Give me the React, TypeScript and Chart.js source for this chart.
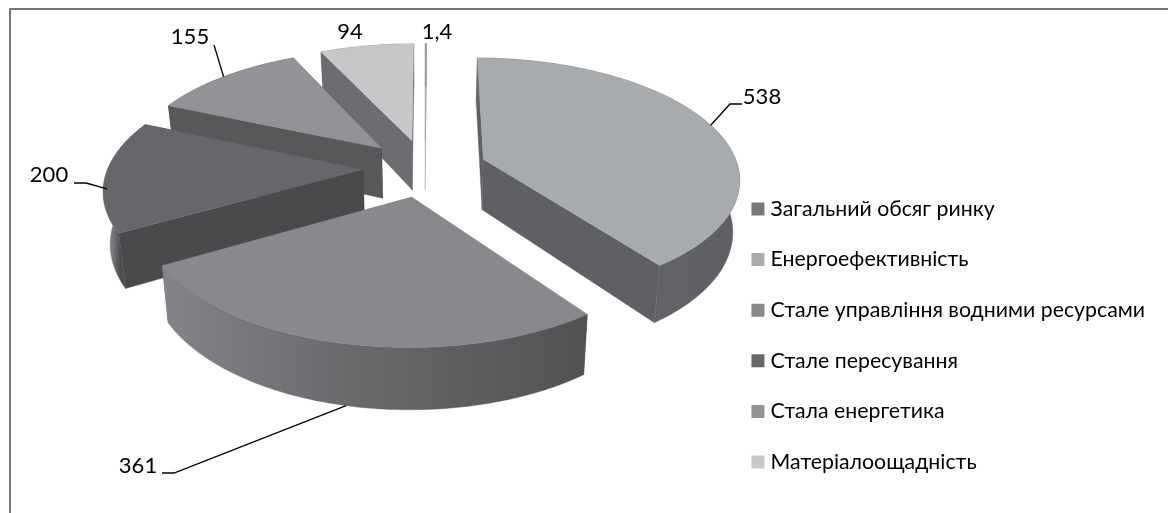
import React, { useEffect, useRef } from "react";
import { Chart, registerables } from "chart.js";

Chart.register(...registerables);

const categories = [
  "Загальний обсяг ринку",
  "Енергоефективність",
  "Стале управління водними ресурсами",
  "Стале пересування",
  "Стала енергетика",
  "Матеріалоощадність",
];
const values = [1.4, 538, 361, 200, 155, 94];
const valueLabels = ["1,4", "538", "361", "200", "155", "94"];

const topColors = ["#77787c", "#a8abae", "#88898c", "#66676a", "#929396", "#c6c7c9"];
const faceColors = ["#77787c", "#5f6064", "#6a6a6d", "#4a4a4c", "#58585b", "#6c6d70"];
const wallStops: [number, string][][] = [
  [[0, "#77787c"], [1, "#77787c"]],
  [[0, "#68696d"], [1, "#5f6064"]],
  [[0, "#838488"], [0.45, "#69696c"], [1, "#525254"]],
  [[0, "#8a8b8f"], [0.2, "#78797d"], [0.35, "#4e4e50"], [1, "#4a4a4c"]],
  [[0, "#58585b"], [1, "#58585b"]],
  [[0, "#6c6d70"], [1, "#6c6d70"]],
];
const sliceAlpha = [0.4, 1, 1, 1, 1, 1];
const paintOrder = [5, 4, 0, 3, 1, 2];

const FONT = "Lato, 'Open Sans', sans-serif";
const CX = 425;
const CY = 168;
const RADIUS = 255;
const EXPLODE = 62;
const TILT = 0.465;
const PERSP = 0.000577;
const DEPTH = 51;
const BOTTOM_SCALE = 0.978;

// where each value label sits and how its leader runs (null = no leader)
const labelPos: { x: number; y: number; elbow: number[][] | null; anchorDepth: number }[] = [
  { x: 437, y: 32, elbow: null, anchorDepth: 0 },
  { x: 762, y: 97, elbow: [[742, 104], [730, 104]], anchorDepth: 0 },
  { x: 138, y: 466, elbow: [[162, 473], [174, 473]], anchorDepth: 1 },
  { x: 49, y: 175, elbow: [[74, 183], [86, 183]], anchorDepth: 0.25 },
  { x: 190, y: 37, elbow: [[214, 45]], anchorDepth: 0 },
  { x: 350, y: 32, elbow: null, anchorDepth: 0 },
];

function project(a: number, r: number, mid: number, z: number): [number, number] {
  const u = r * Math.cos(a) + EXPLODE * Math.cos(mid);
  const v = r * Math.sin(a) + EXPLODE * Math.sin(mid);
  const s = 1 / (1 - PERSP * v);
  const g = 1 - (1 - BOTTOM_SCALE) * z;
  return [CX + u * s * g, CY + TILT * v * s + z * DEPTH * s];
}

function poly(ctx: CanvasRenderingContext2D, pts: [number, number][], fill: string | CanvasGradient) {
  ctx.beginPath();
  pts.forEach((p, i) => (i ? ctx.lineTo(p[0], p[1]) : ctx.moveTo(p[0], p[1])));
  ctx.closePath();
  ctx.fillStyle = fill;
  ctx.fill();
  ctx.strokeStyle = fill;
  ctx.lineWidth = 0.4;
  ctx.stroke();
}

const solidPlugin = {
  id: "solidPie",
  beforeDatasetsDraw(chart: any) {
    const ctx: CanvasRenderingContext2D = chart.ctx;
    const arcs = chart.getDatasetMeta(0).data;
    ctx.save();
    for (const i of paintOrder) {
      const { startAngle: a0, endAngle: a1 } = arcs[i];
      const mid = (a0 + a1) / 2;
      const n = Math.max(2, Math.ceil(((a1 - a0) * 180) / Math.PI));
      const top: [number, number][] = [];
      const bot: [number, number][] = [];
      for (let k = 0; k <= n; k++) {
        const a = a0 + ((a1 - a0) * k) / n;
        top.push(project(a, RADIUS, mid, 0));
        bot.push(project(a, RADIUS, mid, 1));
      }
      const apexT = project(mid, 0, mid, 0);
      const apexB = project(mid, 0, mid, 1);
      ctx.globalAlpha = sliceAlpha[i];
      // radial faces
      poly(ctx, [apexT, top[0], bot[0], apexB], faceColors[i]);
      poly(ctx, [apexT, top[n], bot[n], apexB], faceColors[i]);
      // outer wall
      const xs = top.concat(bot).map((p) => p[0]);
      const grad = ctx.createLinearGradient(Math.min(...xs), 0, Math.max(...xs), 0);
      wallStops[i].forEach(([o, c]) => grad.addColorStop(o, c));
      poly(ctx, top.concat(bot.slice().reverse()), grad);
      // top face
      poly(ctx, [apexT, ...top], topColors[i]);
      ctx.globalAlpha = 1;
    }
    // value labels and leaders
    ctx.font = `22px ${FONT}`;
    ctx.textAlign = "center";
    ctx.textBaseline = "middle";
    values.forEach((_, i) => {
      const l = labelPos[i];
      ctx.fillStyle = "#000";
      ctx.fillText(valueLabels[i], l.x, l.y);
      if (l.elbow) {
        const { startAngle: a0, endAngle: a1 } = arcs[i];
        const mid = (a0 + a1) / 2;
        const p = project(mid, RADIUS, mid, l.anchorDepth);
        ctx.strokeStyle = "#000";
        ctx.lineWidth = 1.3;
        ctx.beginPath();
        l.elbow.forEach((e, j) => (j ? ctx.lineTo(e[0], e[1]) : ctx.moveTo(e[0], e[1])));
        ctx.lineTo(p[0], p[1]);
        ctx.stroke();
      }
    });
    ctx.restore();
    return false;
  },
};

export default function App() {
  const ref = useRef<HTMLCanvasElement>(null);
  useEffect(() => {
    const chart = new Chart(ref.current!, {
      type: "pie",
      plugins: [solidPlugin],
      data: {
        labels: categories,
        datasets: [
          {
            data: values,
            backgroundColor: topColors,
            borderColor: topColors,
            borderWidth: 9,
          },
        ],
      },
      options: {
        responsive: false,
        animation: false,
        layout: { padding: { top: 158, right: 13, left: 0, bottom: 0 } },
        plugins: {
          tooltip: { enabled: false },
          legend: {
            position: "right",
            labels: {
              boxWidth: 4,
              boxHeight: 4,
              padding: 29.3,
              color: "#000",
              font: { family: FONT, size: 21.3 },
            },
          },
        },
      },
    } as any);
    return () => chart.destroy();
  }, []);
  return (
    <div style={{ position: "fixed", left: 0, top: 0, width: 1168, height: 513, background: "#fff", overflow: "hidden" }}>
      <canvas ref={ref} width={1168} height={513} style={{ display: "block" }} />
      <div style={{ position: "absolute", left: 9, top: 8, right: -3, bottom: -3, border: "2px solid #777", boxSizing: "border-box" }} />
    </div>
  );
}
